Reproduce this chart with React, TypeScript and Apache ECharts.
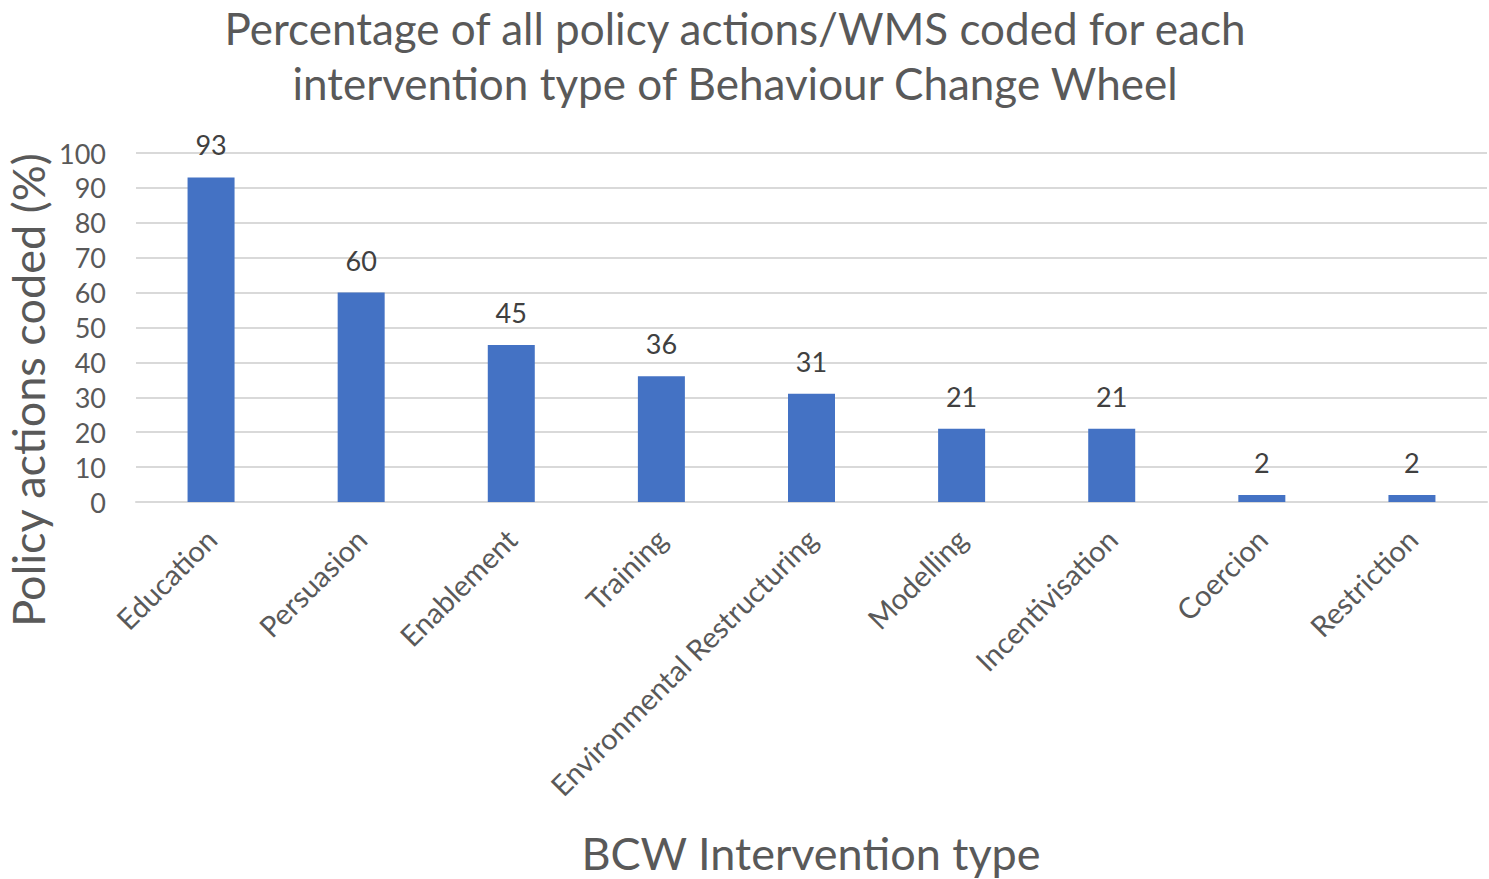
import React, { useEffect, useRef } from "react";
import * as echarts from "echarts";

const categories = ["Education", "Persuasion", "Enablement", "Training", "Environmental Restructuring", "Modelling", "Incentivisation", "Coercion", "Restriction"];
const values = [93, 60, 45, 36, 31, 21, 21, 2, 2];
const titleLines = ["Percentage of all policy actions/WMS coded for each", "intervention type of Behaviour Change Wheel"];
const yAxisTitle = "Policy actions coded (%)";
const xAxisTitle = "BCW Intervention type";

const FONT = "Lato, 'Open Sans', sans-serif";

export default function App() {
  const ref = useRef<HTMLDivElement>(null);
  useEffect(() => {
    document.body.style.margin = "0";
    const chart = echarts.init(ref.current!, null, { renderer: "svg" });
    chart.setOption({
      animation: false,
      backgroundColor: "#ffffff",
      textStyle: { fontFamily: FONT },
      grid: { left: 136, right: 2, top: 153, bottom: 377, containLabel: false, outerBoundsMode: "none" },
      xAxis: {
        type: "category",
        data: categories,
        axisLine: { lineStyle: { color: "#d9d9d9", width: 2 } },
        axisTick: { show: false },
        axisLabel: { rotate: 45, fontSize: 29, color: "#595959", margin: 32, interval: 0, fontFamily: FONT },
      },
      yAxis: {
        type: "value",
        min: 0,
        max: 100,
        interval: 10,
        axisLine: { show: false },
        axisTick: { show: false },
        splitLine: { lineStyle: { color: "#d9d9d9", width: 2 } },
        axisLabel: { fontSize: 27, color: "#595959", margin: 30, fontFamily: FONT },
      },
      graphic: [
        {
          type: "text",
          x: 735,
          y: 28,
          style: {
            text: titleLines[0],
            fontSize: 44,
            fill: "#595959",
            fontFamily: FONT,
            align: "center",
            verticalAlign: "middle",
          },
        },
        {
          type: "text",
          x: 735,
          y: 83,
          style: {
            text: titleLines[1],
            fontSize: 44,
            fill: "#595959",
            fontFamily: FONT,
            align: "center",
            verticalAlign: "middle",
          },
        },
        {
          type: "text",
          x: 28,
          y: 390,
          rotation: Math.PI / 2,
          style: {
            text: yAxisTitle,
            fontSize: 45,
            fill: "#595959",
            fontFamily: FONT,
            align: "center",
            verticalAlign: "middle",
          },
        },
        {
          type: "text",
          x: 811,
          y: 853,
          style: {
            text: xAxisTitle,
            fontSize: 45,
            fill: "#595959",
            fontFamily: FONT,
            align: "center",
            verticalAlign: "middle",
          },
        },
      ],
      series: [
        {
          type: "bar",
          data: values,
          barWidth: 47,
          itemStyle: { color: "#4472C4" },
          label: { show: true, position: "top", distance: 19, fontSize: 27, color: "#404040", fontFamily: FONT },
        },
      ],
    });
    return () => chart.dispose();
  }, []);
  return <div ref={ref} style={{ width: 1489, height: 879 }} />;
}
